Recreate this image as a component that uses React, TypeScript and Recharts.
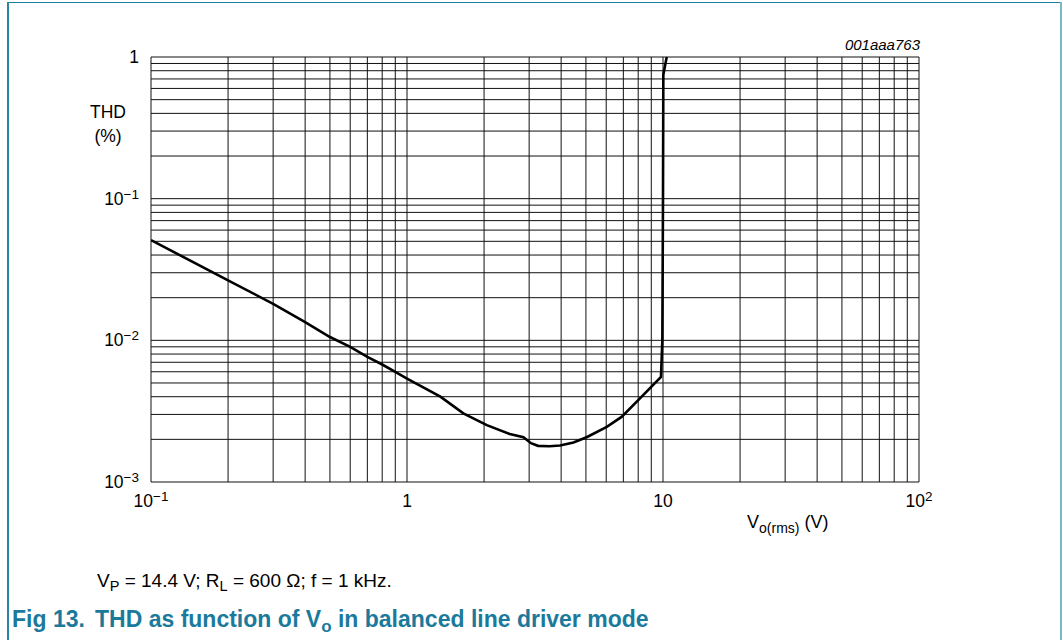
import React from 'react';
import { LineChart, Line, XAxis, YAxis, CartesianGrid } from 'recharts';

// Vo(rms) in volts, THD in percent
const vo = [
  0.1, 0.2, 0.3, 0.4, 0.5, 0.6, 0.7, 0.8, 0.9, 1.0, 1.35, 1.66, 2.05, 2.52, 2.85, 3.05, 3.25,
  3.6, 3.96, 4.47, 5.03, 6.03, 6.89, 8.13, 9.82, 9.94, 10.0, 10.03, 10.34,
];
const thd = [
  0.051, 0.0265, 0.0181, 0.01345, 0.01055, 0.00898, 0.00763, 0.00675, 0.00598, 0.00537, 0.004,
  0.00305, 0.00252, 0.00218, 0.00207, 0.00188, 0.0018, 0.00179, 0.00181, 0.0019, 0.00207,
  0.00245, 0.00288, 0.00389, 0.00552, 0.01, 0.1, 0.75, 1,
];

const xTicks = [
  0.1, 0.2, 0.3, 0.4, 0.5, 0.6, 0.7, 0.8, 0.9,
  1, 2, 3, 4, 5, 6, 7, 8, 9,
  10, 20, 30, 40, 50, 60, 70, 80, 90, 100,
];
const yTicks = [
  0.001, 0.002, 0.003, 0.004, 0.005, 0.006, 0.007, 0.008, 0.009,
  0.01, 0.02, 0.03, 0.04, 0.05, 0.06, 0.07, 0.08, 0.09,
  0.1, 0.2, 0.3, 0.4, 0.5, 0.6, 0.7, 0.8, 0.9, 1,
];

// decade labels: value, base text, superscript
const xLabels: [number, string, string][] = [
  [0.1, '10', '\u22121'],
  [1, '1', ''],
  [10, '10', ''],
  [100, '10', '2'],
];
const yLabels: [number, string, string][] = [
  [1, '1', ''],
  [0.1, '10', '\u22121'],
  [0.01, '10', '\u22122'],
  [0.001, '10', '\u22123'],
];

const data = vo.map((v, i) => ({ vo: v, thd: thd[i] }));

const FONT = '"Liberation Sans", Arial, Helvetica, sans-serif';
const TEAL = '#1b7a9c';

const findLabel = (list: [number, string, string][], v: number) =>
  list.find((l) => Math.abs(l[0] - v) / l[0] < 1e-6);

const XTick = (props: any) => {
  const { x, y, payload } = props;
  const lab = findLabel(xLabels, payload.value);
  if (!lab) return <g />;
  return (
    <text x={x} y={y} textAnchor="middle" fontFamily={FONT} fontSize={17.5} fill="#000">
      {lab[1]}
      {lab[2] && (
        <tspan dy={-6} fontSize={13.5}>
          {lab[2]}
        </tspan>
      )}
    </text>
  );
};

const YTick = (props: any) => {
  const { x, y, payload } = props;
  const lab = findLabel(yLabels, payload.value);
  if (!lab) return <g />;
  return (
    <text x={x} y={y + 6} textAnchor="end" fontFamily={FONT} fontSize={17.5} fill="#000">
      {lab[1]}
      {lab[2] && (
        <tspan dy={-6} fontSize={13.5}>
          {lab[2]}
        </tspan>
      )}
    </text>
  );
};

const App: React.FC = () => {
  return (
    <div style={{ position: 'absolute', left: 0, top: 0, width: 1063, height: 640, background: '#fff' }}>
      {/* figure frame */}
      <div style={{ position: 'absolute', left: 7, top: 2, width: 1055, height: 1, background: '#1a7fa0' }} />
      <div style={{ position: 'absolute', left: 7, top: 2, width: 1.5, height: 638, background: '#2a85a5' }} />
      <div style={{ position: 'absolute', left: 1060, top: 2, width: 2, height: 638, background: '#7ab8c8' }} />

      <div style={{ position: 'absolute', left: 0, top: 0 }}>
        <LineChart width={1063} height={640} data={data} margin={{ top: 57, right: 144, bottom: 118, left: 91 }}>
          <CartesianGrid stroke="#111" strokeWidth={1} />
          <XAxis
            dataKey="vo"
            type="number"
            scale="log"
            domain={[0.1, 100]}
            allowDataOverflow
            ticks={xTicks}
            interval={0}
            height={40}
            tickSize={0}
            tickMargin={25}
            axisLine={false}
            tickLine={false}
            tick={<XTick />}
          />
          <YAxis
            dataKey="thd"
            type="number"
            scale="log"
            domain={[0.001, 1]}
            allowDataOverflow
            ticks={yTicks}
            interval={0}
            width={60}
            tickSize={0}
            tickMargin={12}
            axisLine={false}
            tickLine={false}
            tick={<YTick />}
          />
          <Line
            type="linear"
            dataKey="thd"
            stroke="#000"
            strokeWidth={2.6}
            dot={false}
            isAnimationActive={false}
          />
        </LineChart>
      </div>

      <svg
        width={1063}
        height={640}
        style={{ position: 'absolute', left: 0, top: 0, pointerEvents: 'none' }}
        fontFamily={FONT}
      >
        <text x={920} y={50} textAnchor="end" fontSize={15} fontStyle="italic" fill="#000">
          001aaa763
        </text>
        <text x={108} y={118} textAnchor="middle" fontSize={17.5} fill="#000">
          THD
        </text>
        <text x={108} y={142} textAnchor="middle" fontSize={17.5} fill="#000">
          (%)
        </text>
        <text x={747} y={528} fontSize={18} fill="#000">
          V
          <tspan dy={5} fontSize={14}>
            o(rms)
          </tspan>
          <tspan dy={-5}> (V)</tspan>
        </text>
        <text x={97} y={587} fontSize={19} fill="#000">
          V
          <tspan dy={4} fontSize={14.5}>
            P
          </tspan>
          <tspan dy={-4}> = 14.4 V; R</tspan>
          <tspan dy={4} fontSize={14.5}>
            L
          </tspan>
          <tspan dy={-4}> = 600 Ω; f = 1 kHz.</tspan>
        </text>
        <text x={12} y={627} fontSize={23} fontWeight="bold" fill={TEAL}>
          Fig 13.
        </text>
        <text x={95} y={627} fontSize={23} fontWeight="bold" fill={TEAL}>
          THD as function of V
          <tspan dy={5} fontSize={17}>
            o
          </tspan>
          <tspan dy={-5}> in balanced line driver mode</tspan>
        </text>
      </svg>
    </div>
  );
};

export default App;
